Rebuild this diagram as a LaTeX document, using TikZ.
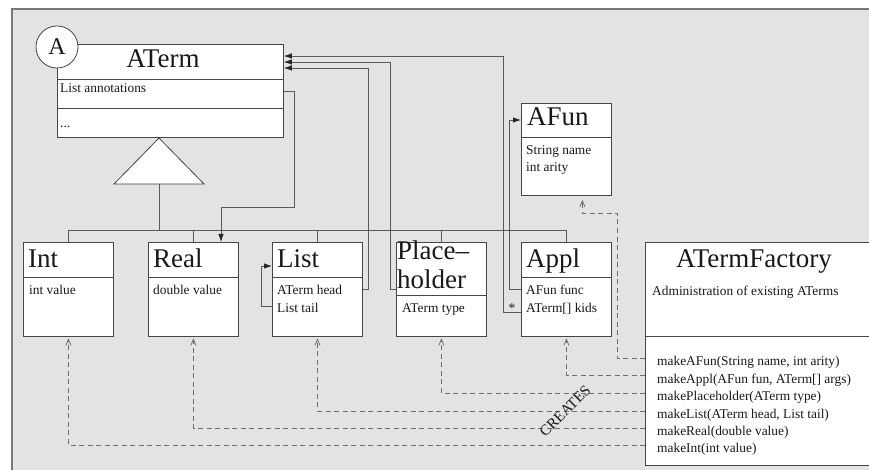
\documentclass[tikz,border=0pt]{standalone}
\usepackage{fontspec}
\setmainfont{Liberation Serif}
\usetikzlibrary{arrows.meta,calc}
\definecolor{bgc}{RGB}{227,227,227}
\definecolor{bdc}{RGB}{70,70,70}
\definecolor{lnc}{RGB}{90,90,90}
\definecolor{dsc}{RGB}{110,110,110}
\definecolor{frc}{RGB}{120,120,120}
\definecolor{txc}{RGB}{25,25,25}
\begin{document}
\begin{tikzpicture}[x=1pt,y=-1pt,
 comp/.style={draw=bdc,fill=white,line width=0.8pt,inner sep=0pt,anchor=north west,minimum width=90pt},
 ttl/.style={font=\fontsize{27}{29}\selectfont,inner sep=0pt,anchor=base west,text=txc},
 txt/.style={font=\fontsize{13.4}{17}\selectfont,inner sep=0pt,anchor=base west,text=txc},
 ln/.style={draw=lnc,line width=0.8pt},
 agg/.style={ln,-{Latex[length=8pt,width=5.5pt,color=black!85]}},
 dep/.style={draw=dsc,line width=0.8pt,dash pattern=on 5pt off 3.5pt,-{Straight Barb[length=6pt,width=5pt]}}]
\useasboundingbox (0,0) rectangle (869,470);
\clip (0,0) rectangle (869,470);
\fill[bgc] (12,9) rectangle (890,490);
\draw[frc,line width=1.2pt] (12,490) -- (12,9) -- (890,9);

% ATerm
\node[comp,minimum width=226pt,minimum height=35pt] (aterm1) at (57,44) {};
\node[comp,minimum width=226pt,minimum height=29pt] (aterm2) at (57,79) {};
\node[comp,minimum width=226pt,minimum height=29pt] (aterm3) at (57,108) {};
\node[circle,draw=bdc,fill=white,line width=0.8pt,minimum size=42pt,inner sep=0pt,font=\fontsize{24}{24}\selectfont,text=txc] (acirc) at (57,47) {A};
\node[ttl,anchor=base] (atermT) at (163,68) {ATerm};
\node[txt] (atermA) at (60,93) {List annotations};
\node[txt] (atermM) at (60,128) {...};

% inheritance triangle
\coordinate (tri) at (159,138);
\coordinate (triB) at (159,184);
\draw[draw=bdc,fill=white,line width=0.8pt] (tri) -- (204,184) -- (114,184) -- cycle;

% AFun
\node[comp,minimum height=34pt] (afun1) at (521,103) {};
\node[comp,minimum height=58pt] (afun2) at (521,137) {};
\node[ttl] (afunT) at (527,126) {AFun};
\node[txt] (afunA) at (526,155) {String name};
\node[txt] (afunB) at (526,172) {int arity};

% Int
\node[comp,minimum height=35pt] (int1) at (23,242) {};
\node[comp,minimum height=59pt] (int2) at (23,277) {};
\node[ttl] (intT) at (28,267) {Int};
\node[txt] (intA) at (29,294) {int value};

% Real
\node[comp,minimum height=35pt] (real1) at (148,242) {};
\node[comp,minimum height=59pt] (real2) at (148,277) {};
\node[ttl] (realT) at (153,267) {Real};
\node[txt] (realA) at (153,294) {double value};

% List
\node[comp,minimum height=35pt] (list1) at (272,242) {};
\node[comp,minimum height=59pt] (list2) at (272,277) {};
\node[ttl] (listT) at (277,267) {List};
\node[txt] (listA) at (277,294) {ATerm head};
\node[txt] (listB) at (277,312) {List tail};

% Placeholder
\node[comp,minimum height=53pt] (ph1) at (396,242) {};
\node[comp,minimum height=41pt] (ph2) at (396,295) {};
\node[ttl] (phT1) at (397,259) {Place–};
\node[ttl] (phT2) at (397,288) {holder};
\node[txt] (phA) at (402,312) {ATerm type};

% Appl
\node[comp,minimum height=35pt] (appl1) at (521,242) {};
\node[comp,minimum height=59pt] (appl2) at (521,277) {};
\node[ttl] (applT) at (526,267) {Appl};
\node[txt] (applA) at (526,294) {AFun func};
\node[txt] (applB) at (526,312) {ATerm[] kids};

% ATermFactory
\node[comp,minimum width=240pt,minimum height=94pt] (fac1) at (645,242) {};
\node[comp,minimum width=240pt,minimum height=129pt] (fac2) at (645,336) {};
\node[ttl,anchor=base] (facT) at (754,267) {ATermFactory};
\node[txt] (facA) at (652,295) {Administration of existing ATerms};
\node[txt] (m1) at (657,365) {makeAFun(String name, int arity)};
\node[txt] (m2) at (657,383) {makeAppl(AFun fun, ATerm[] args)};
\node[txt] (m3) at (657,400) {makePlaceholder(ATerm type)};
\node[txt] (m4) at (657,418) {makeList(ATerm head, List tail)};
\node[txt] (m5) at (657,435) {makeReal(double value)};
\node[txt] (m6) at (657,452) {makeInt(int value)};

% inheritance connectors
\coordinate (bus) at (159,230);
\draw[ln] (triB) -- (bus);
\draw[ln] (int1.north) -- ++(0,-12) -| (appl1.north);
\draw[ln] (real1.north) -- ++(0,-12);
\draw[ln] (list1.north) -- ++(0,-12);
\draw[ln] (ph1.north) -- ++(0,-12);

% aggregation connectors
\draw[agg] ($(appl2.north west)+(0,35)$) -- ++(-18,0) |- ($(aterm1.north east)+(0,12)$);
\node[txt,anchor=center] (star) at (512,308) {*};
\draw[agg] ($(ph1.north west)+(0,47)$) -- ++(-6,0) |- ($(aterm1.north east)+(0,18)$);
\draw[agg] ($(list2.north east)+(0,12)$) -- ++(6,0) |- ($(aterm1.north east)+(0,24)$);
\draw[agg] ($(aterm2.north east)+(0,12)$) -- ++(11,0) -- ++(0,116) -| ($(real1.north west)+(73,0)$);
\draw[agg] ($(list2.north west)+(0,29)$) -- ++(-11,0) |- ($(list1.north west)+(0,24)$);
\draw[agg] ($(appl2.north west)+(0,12)$) -- ++(-12,0) |- ($(afun1.north west)+(0,17)$);

% dependency connectors
\draw[dep] ($(fac2.north west)+(0,22)$) -- ++(-28,0) -- ++(0,-145) -| ($(afun2.south)+(16,4)$);
\draw[dep,shorten >=1.5pt] ($(fac2.north west)+(0,39)$) -| (appl2.south);
\draw[dep,shorten >=1.5pt] ($(fac2.north west)+(0,57)$) -| (ph2.south);
\draw[dep,shorten >=1.5pt] ($(fac2.north west)+(0,75)$) -| (list2.south);
\draw[dep,shorten >=1.5pt] ($(fac2.north west)+(0,92)$) -| (real2.south);
\draw[dep,shorten >=1.5pt] ($(fac2.north west)+(0,109)$) -| (int2.south);
\node[font=\fontsize{15}{15}\selectfont,text=txc,rotate=45,inner sep=0pt] (creates) at (565,411) {CREATES};
\end{tikzpicture}
\end{document}
